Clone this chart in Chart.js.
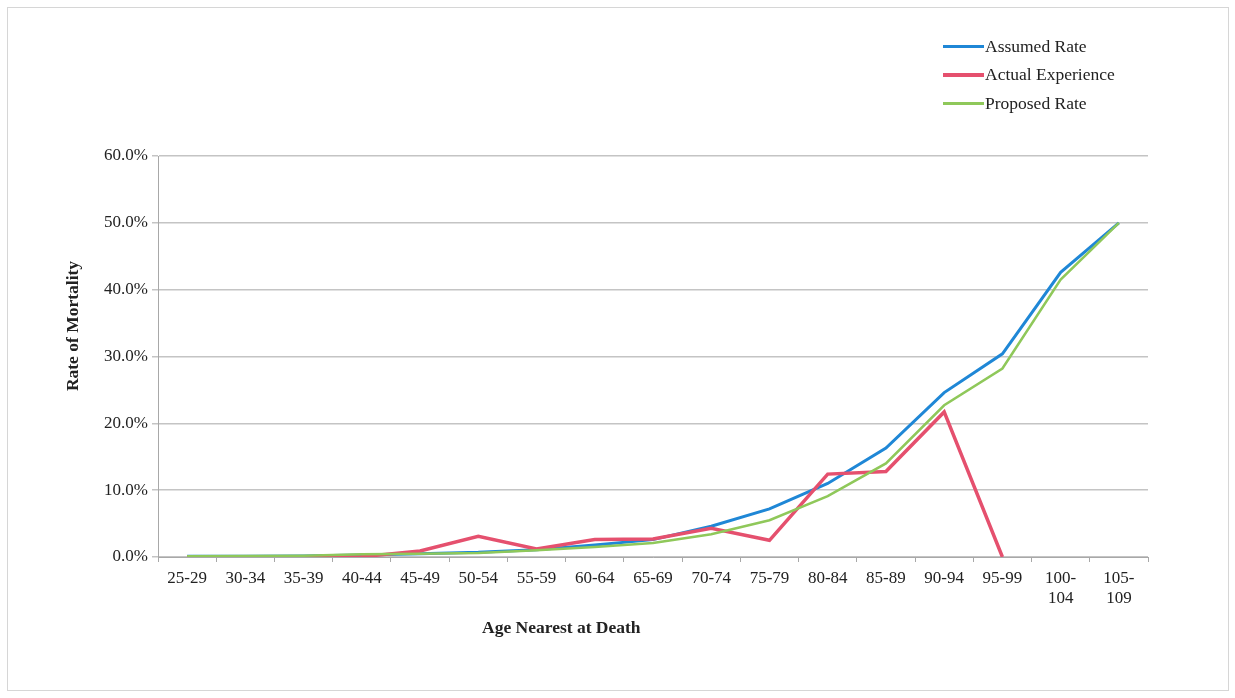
<!DOCTYPE html>
<html>
<head>
<meta charset="utf-8">
<script src="https://cdn.jsdelivr.net/npm/chart.js@4/dist/chart.umd.min.js"></script>
<style>
  html, body { margin: 0; padding: 0; background: #fff; }
  #wrap { position: relative; width: 1235px; height: 698px; overflow: hidden; }
  #frame { position: absolute; left: 7px; top: 7px; width: 1222px; height: 684px;
           border: 1px solid #d6d6d6; box-sizing: border-box; pointer-events: none; }
  canvas { position: absolute; left: 0; top: 0; }
  .title { position: absolute; font-family: "Liberation Serif", "Times New Roman", serif;
           font-weight: bold; font-size: 17.5px; color: #222; white-space: nowrap; }
  #xTitle { left: 482px; top: 617px; }
  #yTitle { left: 72px; top: 326px; transform: translate(-50%, -50%) rotate(-90deg); }
  #legend { position: absolute; left: 943px; top: 32px; font-family: "Liberation Serif", "Times New Roman", serif;
            font-size: 17.5px; color: #222; }
  #legend .row { display: flex; align-items: center; height: 28.5px; }
  #legend .swatch { width: 41px; height: 3.5px; margin-right: 1px; }
</style>
</head>
<body>
<div id="wrap">
  <canvas id="c" width="1235" height="698"></canvas>
  <div id="frame"></div>
  <div id="legend"></div>
  <div class="title" id="xTitle">Age Nearest at Death</div>
  <div class="title" id="yTitle">Rate of Mortality</div>
</div>
<script>
// Age bands (last two wrap onto two lines)
const ageBands = ["25-29", "30-34", "35-39", "40-44", "45-49", "50-54", "55-59", "60-64",
  "65-69", "70-74", "75-79", "80-84", "85-89", "90-94", "95-99", ["100-", "104"], ["105-", "109"]];

// Mortality rates in percent
const assumedRate = [0.1, 0.1, 0.15, 0.3, 0.5, 0.7, 1.1, 1.8, 2.6, 4.6, 7.2, 11.0, 16.3, 24.6, 30.4, 42.6, 50.0];
const actualExperience = [0, 0, 0, 0.05, 0.9, 3.1, 1.2, 2.6, 2.7, 4.3, 2.5, 12.4, 12.8, 21.7, 0, null, null];
const proposedRate = [0.1, 0.15, 0.2, 0.4, 0.5, 0.6, 1.0, 1.5, 2.1, 3.4, 5.5, 9.1, 14.0, 22.7, 28.2, 41.5, 50.0];

const yTicks = [0, 10, 20, 30, 40, 50, 60];

const seriesNames = ["Assumed Rate", "Actual Experience", "Proposed Rate"];
const seriesColors = ["#1f87d6", "#e5506e", "#8fc85a"];
const seriesWidths = [3, 3.5, 2.5];
const seriesData = [assumedRate, actualExperience, proposedRate];

const serif = "'Liberation Serif', 'Times New Roman', serif";

// HTML legend built from the series names
const legendEl = document.getElementById("legend");
seriesNames.forEach((name, i) => {
  const row = document.createElement("div");
  row.className = "row";
  const sw = document.createElement("div");
  sw.className = "swatch";
  sw.style.background = seriesColors[i];
  const label = document.createElement("span");
  label.textContent = name;
  row.appendChild(sw);
  row.appendChild(label);
  legendEl.appendChild(row);
});

new Chart(document.getElementById("c"), {
  type: "line",
  data: {
    labels: ageBands,
    datasets: seriesData.map((d, i) => ({
      label: seriesNames[i],
      data: d,
      borderColor: seriesColors[i],
      backgroundColor: seriesColors[i],
      borderWidth: seriesWidths[i],
      pointRadius: 0,
      tension: 0,
      spanGaps: false,
      order: 2 - i
    }))
  },
  options: {
    responsive: false,
    animation: false,
    layout: { padding: { left: 60, right: 87, top: 156, bottom: 81 } },
    plugins: { legend: { display: false }, tooltip: { enabled: false } },
    scales: {
      x: {
        offset: true,
        grid: { offset: true, drawOnChartArea: false, drawTicks: true, tickLength: 5, color: "#a8a8a8" },
        border: { color: "#a8a8a8", width: 1 },
        ticks: { font: { family: serif, size: 17 }, color: "#222", padding: 6, maxRotation: 0, autoSkip: false,
                 lineHeight: 1.3 },
        afterFit: s => { s.height = 60; }
      },
      y: {
        min: 0, max: 60,
        afterBuildTicks: s => { s.ticks = yTicks.map(v => ({ value: v })); },
        grid: { color: "#c4c4c4", lineWidth: 1.5, drawTicks: true, tickLength: 6 },
        border: { color: "#a8a8a8", width: 1 },
        ticks: { font: { family: serif, size: 17 }, color: "#222", padding: 4,
                 callback: v => v.toFixed(1) + "%" },
        afterFit: s => { s.width = 98; }
      }
    }
  }
});
</script>
</body>
</html>
